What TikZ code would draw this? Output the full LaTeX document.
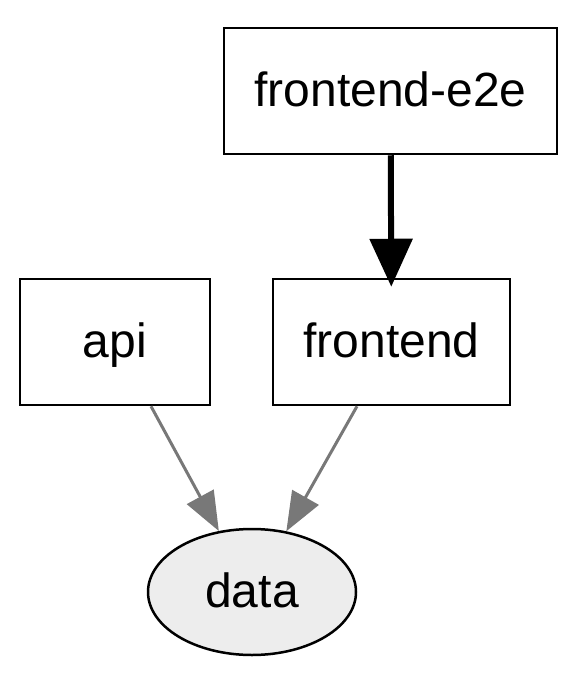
\documentclass[tikz,border=0pt]{standalone}
\usepackage{fontspec}
\setmainfont{Liberation Sans}
\usetikzlibrary{positioning,arrows.meta,shapes.geometric}

\tikzset{
  job/.style={draw, rectangle, line width=2.5pt, minimum height=126pt, text height=38pt, text depth=8pt, font=\fontsize{48}{56}\selectfont},
  store/.style={draw, ellipse, line width=2.5pt, fill=black!7, minimum width=208pt, minimum height=126pt, inner sep=0pt, text height=38pt, text depth=8pt, font=\fontsize{48}{56}\selectfont},
  needs/.style={line width=6pt, -{Triangle[length=48pt, width=42pt]}},
  uses/.style={draw=black!53, line width=3pt, -{Triangle[length=39pt, width=30pt]}, black!53}
}

\begin{document}
\begin{tikzpicture}[x=1pt, y=-1pt]
            \useasboundingbox (0,0) rectangle (587,694);
            \node (e2e) [job, minimum width=333pt] at (390.5,91) {frontend-e2e};
            \node (frontend) [job, minimum width=237pt, below=122.5pt of e2e.south, anchor=north, xshift=1pt] {frontend};
            \node (api) [job, minimum width=190pt, left=60.5pt of frontend] {api};
            \node (data) [store] at (252,592) {data};

            \draw[needs, shorten >=-9pt] (e2e) -- (frontend);
            \draw[uses] ([xshift=36pt]api.south) -- (data);
            \draw[uses] ([xshift=-34.5pt]frontend.south) -- (data);
        \end{tikzpicture}
\end{document}
